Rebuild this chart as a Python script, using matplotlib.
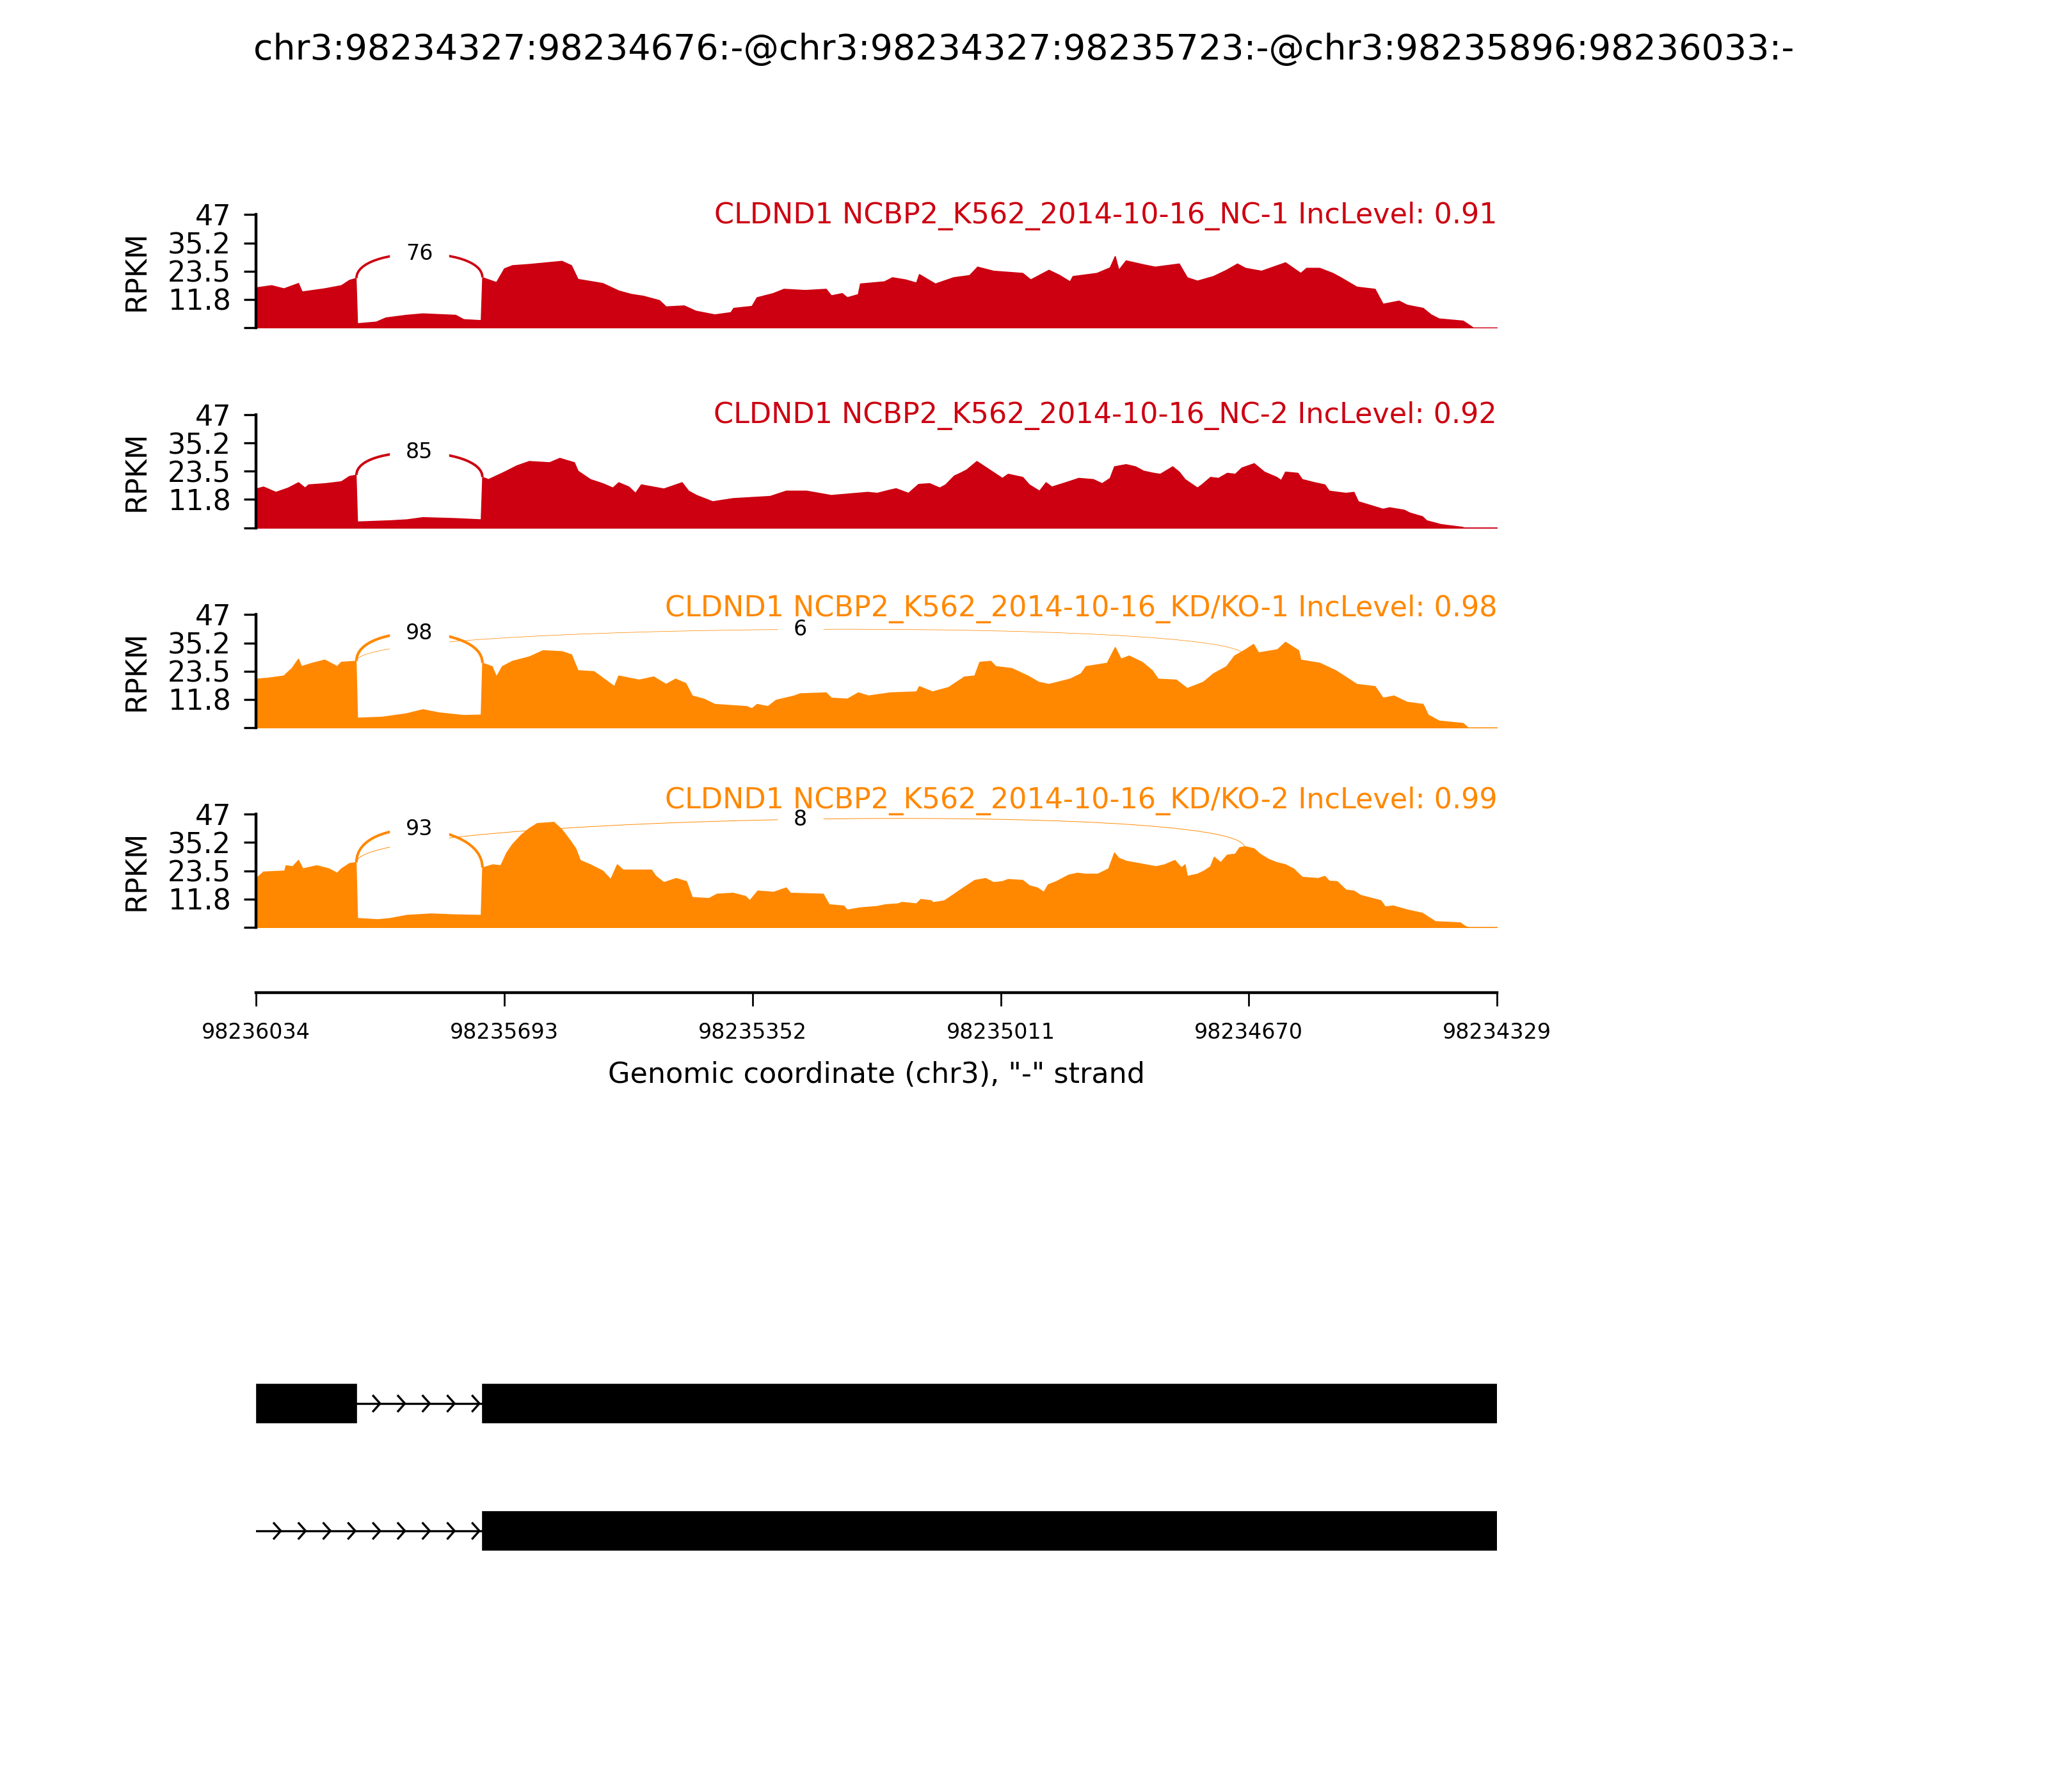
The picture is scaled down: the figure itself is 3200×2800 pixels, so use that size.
import numpy as np
import matplotlib
matplotlib.use('Agg')
import matplotlib.pyplot as plt
from matplotlib.path import Path
from matplotlib.patches import PathPatch, Rectangle

# region shown (minus strand, so it runs from high to low coordinate)
region_start = 98236034
region_end = 98234329
event_title = 'chr3:98234327:98234676:-@chr3:98234327:98235723:-@chr3:98235896:98236033:-'
xlab = 'Genomic coordinate (chr3), "-" strand'

sample_labels = ['CLDND1 NCBP2_K562_2014-10-16_NC-1 IncLevel: 0.91',
                 'CLDND1 NCBP2_K562_2014-10-16_NC-2 IncLevel: 0.92',
                 'CLDND1 NCBP2_K562_2014-10-16_KD/KO-1 IncLevel: 0.98',
                 'CLDND1 NCBP2_K562_2014-10-16_KD/KO-2 IncLevel: 0.99']
sample_colors = ['#CC0011', '#CC0011', '#FF8800', '#FF8800']

# coverage, distance from region_start (bp) -> RPKM
nc1_dist = [0, 21, 38, 58, 63, 94, 117, 128, 137, 139, 165, 178, 206, 229, 274, 285, 309, 311, 330, 341,
            352, 375, 420, 433, 442, 476, 498, 515, 532, 554, 563, 588, 604, 630, 652, 656, 681, 688, 710, 725,
            754, 783, 790, 805, 812, 827, 830, 863, 874, 892, 907, 911, 933, 958, 980, 991, 1013, 1053, 1064, 1089,
            1104, 1118, 1122, 1155, 1173, 1180, 1185, 1195, 1220, 1235, 1268, 1279, 1293, 1315, 1333, 1348, 1359, 1381, 1414, 1435,
            1443, 1461, 1479, 1490, 1512, 1537, 1548, 1570, 1581, 1603, 1614, 1625, 1658, 1669, 1672, 1705]
nc1_rpkm = [16.7, 17.6, 16.3, 18.5, 15.0, 16.3, 17.6, 19.8, 20.6, 1.8, 2.5, 4.2, 5.3, 5.9, 5.3, 3.5, 3.1, 20.9, 18.9, 24.6,
            25.9, 26.4, 27.7, 25.9, 20.2, 18.5, 15.4, 14.0, 13.2, 11.4, 8.8, 9.2, 7.0, 5.5, 6.4, 8.2, 9.0, 12.6, 14.3, 16.1,
            15.6, 16.1, 13.4, 14.3, 12.6, 13.9, 18.3, 19.2, 20.9, 20.0, 18.7, 22.2, 18.3, 20.9, 21.8, 25.3, 23.6, 22.7, 20.0, 24.0,
            21.8, 19.2, 21.4, 22.7, 25.0, 29.7, 24.0, 27.9, 26.2, 25.3, 26.6, 20.9, 19.5, 21.4, 24.0, 26.6, 24.8, 23.6, 27.1, 22.7,
            24.8, 24.8, 22.7, 20.9, 17.0, 16.1, 9.9, 11.2, 9.5, 8.2, 5.5, 3.8, 2.9, 0.7, 0.0, 0.0]

nc2_dist = [0, 10, 27, 44, 58, 67, 72, 95, 117, 128, 137, 139, 184, 207, 229, 274, 309, 311, 319, 341,
            358, 375, 403, 417, 437, 442, 459, 476, 490, 498, 512, 521, 529, 560, 585, 594, 605, 627, 655, 706,
            728, 756, 790, 840, 853, 870, 879, 896, 902, 910, 925, 939, 947, 959, 967, 976, 990, 999, 1010, 1025,
            1033, 1053, 1062, 1076, 1085, 1093, 1116, 1130, 1150, 1162, 1173, 1179, 1195, 1208, 1219, 1233, 1242, 1259, 1268, 1276,
            1293, 1299, 1311, 1322, 1334, 1345, 1354, 1371, 1385, 1402, 1408, 1414, 1431, 1437, 1454, 1468, 1474, 1497, 1508, 1514,
            1548, 1557, 1577, 1585, 1602, 1608, 1628, 1657, 1660, 1705]
nc2_rpkm = [16.3, 17.1, 14.9, 16.7, 18.9, 16.7, 18.0, 18.5, 19.3, 21.5, 22.0, 2.6, 3.1, 3.5, 4.4, 4.0, 3.5, 21.1, 20.2, 23.3,
            25.9, 27.7, 27.2, 29.0, 27.2, 23.7, 20.2, 18.5, 16.7, 18.9, 17.1, 14.5, 18.0, 16.3, 18.9, 15.4, 13.6, 11.0, 12.3, 13.2,
            15.4, 15.4, 13.6, 14.9, 14.5, 15.8, 16.4, 14.5, 16.1, 18.2, 18.5, 16.7, 18.0, 21.7, 22.8, 24.2, 27.7, 25.9, 23.7, 20.7,
            22.4, 21.1, 18.0, 15.4, 18.9, 17.1, 19.3, 20.7, 20.2, 18.5, 20.7, 25.5, 26.4, 25.5, 23.7, 22.8, 22.4, 25.5, 23.3, 20.2,
            16.7, 18.0, 21.1, 20.7, 22.8, 22.4, 25.0, 26.8, 23.3, 21.1, 19.8, 23.3, 22.8, 20.2, 18.9, 18.0, 15.4, 14.5, 14.9, 11.0,
            7.9, 8.5, 7.5, 6.3, 4.8, 3.1, 1.5, 0.4, 0.0, 0.0]

kd1_dist = [0, 16, 38, 41, 49, 58, 62, 77, 94, 100, 111, 117, 137, 139, 173, 206, 229, 251, 285, 309,
            311, 324, 330, 338, 352, 375, 394, 420, 433, 442, 464, 478, 492, 498, 526, 546, 563, 576, 590, 599,
            615, 630, 674, 681, 688, 703, 714, 739, 747, 783, 790, 812, 827, 841, 871, 907, 911, 929, 951, 962,
            973, 987, 994, 1009, 1016, 1038, 1060, 1075, 1089, 1118, 1133, 1140, 1169, 1180, 1188, 1199, 1217, 1231, 1239, 1264,
            1279, 1301, 1315, 1333, 1344, 1359, 1370, 1377, 1403, 1414, 1432, 1435, 1461, 1483, 1501, 1512, 1537, 1548, 1563, 1581,
            1603, 1610, 1625, 1658, 1665, 1705]
kd1_rpkm = [20.3, 20.7, 21.6, 22.5, 24.7, 28.6, 25.5, 26.9, 28.2, 27.3, 25.5, 27.3, 27.7, 4.1, 4.5, 5.9, 7.6, 6.3, 5.2, 5.4,
            26.9, 25.5, 21.2, 25.5, 27.7, 29.5, 32.1, 31.7, 30.4, 23.8, 23.4, 20.3, 17.2, 21.6, 19.9, 21.2, 18.1, 20.3, 18.5, 13.3,
            12.0, 9.8, 8.9, 8.0, 9.8, 8.9, 11.5, 13.3, 14.2, 14.6, 12.4, 12.0, 14.6, 13.3, 14.6, 15.0, 17.2, 15.0, 16.8, 19.0,
            21.2, 21.6, 27.3, 27.7, 25.5, 24.7, 21.6, 19.0, 18.1, 20.3, 22.5, 25.5, 26.9, 33.4, 28.6, 29.9, 27.3, 23.8, 20.3, 19.9,
            16.4, 19.0, 22.5, 25.5, 29.9, 32.5, 34.7, 31.2, 32.5, 35.6, 32.1, 28.2, 26.9, 23.8, 20.3, 18.1, 17.2, 12.4, 13.3, 10.7,
            9.8, 5.4, 2.9, 1.9, 0.0, 0.0]

kd2_dist = [0, 10, 39, 41, 50, 58, 64, 83, 100, 111, 117, 128, 137, 139, 167, 184, 207, 240, 274, 309,
            311, 325, 336, 344, 352, 364, 375, 386, 409, 420, 431, 439, 445, 459, 476, 487, 496, 504, 543, 549,
            560, 577, 591, 599, 622, 633, 655, 672, 678, 689, 711, 728, 734, 779, 787, 807, 812, 829, 853, 864,
            882, 887, 907, 913, 927, 930, 945, 959, 967, 976, 987, 1002, 1013, 1025, 1033, 1053, 1062, 1073, 1082, 1088,
            1099, 1116, 1128, 1139, 1156, 1171, 1179, 1185, 1196, 1213, 1236, 1248, 1262, 1271, 1276, 1279, 1293, 1302, 1311, 1316,
            1325, 1334, 1345, 1351, 1359, 1371, 1379, 1391, 1402, 1414, 1425, 1437, 1459, 1468, 1474, 1485, 1497, 1508, 1517, 1545,
            1551, 1562, 1582, 1602, 1611, 1620, 1654, 1660, 1665, 1705]
kd2_rpkm = [20.4, 23.1, 23.5, 25.7, 25.3, 27.9, 24.4, 25.7, 24.4, 22.6, 24.4, 26.6, 27.0, 3.8, 3.3, 3.8, 5.1, 5.7, 5.3, 5.1,
            24.8, 26.1, 25.7, 31.0, 34.5, 38.4, 41.1, 43.2, 43.7, 40.6, 36.2, 32.7, 27.9, 26.1, 23.5, 20.0, 26.1, 23.9, 23.9, 21.3,
            18.7, 20.4, 19.1, 12.5, 12.1, 13.9, 14.3, 13.0, 11.2, 15.2, 14.7, 16.5, 14.3, 13.9, 9.5, 9.0, 7.3, 8.2, 8.8, 9.5,
            9.9, 10.5, 9.9, 11.7, 11.2, 10.4, 11.1, 13.9, 15.6, 17.4, 19.6, 20.4, 18.7, 19.1, 20.0, 19.6, 17.4, 16.5, 14.7, 17.8,
            19.1, 21.8, 22.6, 22.2, 22.2, 24.4, 31.0, 28.8, 27.5, 26.6, 25.3, 26.1, 27.9, 24.8, 26.1, 21.3, 22.2, 23.5, 25.3, 29.2,
            27.0, 30.1, 30.5, 33.2, 33.6, 32.7, 30.5, 28.3, 27.0, 26.1, 24.4, 20.9, 20.4, 21.3, 19.3, 19.1, 15.6, 15.2, 13.4, 11.2,
            8.6, 9.0, 7.3, 6.0, 4.2, 2.5, 2.0, 0.7, 0.0, 0.0]

coverage = [(nc1_dist, nc1_rpkm), (nc2_dist, nc2_rpkm), (kd1_dist, kd1_rpkm), (kd2_dist, kd2_rpkm)]

# junctions: (left splice site, right splice site, read count)
junctions = [[(98235896, 98235723, 76)],
             [(98235896, 98235723, 85)],
             [(98235896, 98235723, 98), (98235896, 98234676, 6)],
             [(98235896, 98235723, 93), (98235896, 98234676, 8)]]

ytick_vals = [0, 11.8, 23.5, 35.2, 47]
ytick_labels = ['', '11.8', '23.5', '35.2', '47']
xtick_vals = [98236034, 98235693, 98235352, 98235011, 98234670, 98234329]

# transcripts drawn under the axis
tx_exons = [[(98235896, 98236033), (98234327, 98235723)],
            [(98234327, 98235723)]]
tx_introns = [[(98235723, 98235896)],
              [(98235723, 98236034)]]


def cov_at(dist, vals, d):
    k = np.searchsorted(dist, d, side='right') - 1
    return vals[max(k, 0)]


fig = plt.figure(figsize=(8, 7), dpi=400)
fig.text(0.5, 0.972, event_title, ha='center', va='center', fontsize=10)

panel_bottoms = [0.8171, 0.7054, 0.5939, 0.4825]
title_y = [43.3, 43.5, 46.2, 49.3]

for i in range(4):
    dist, vals = coverage[i]
    color = sample_colors[i]
    ax = fig.add_axes([0.125, panel_bottoms[i], 0.606, 0.0632])
    x = region_start - np.array(dist)
    ax.fill_between(x, vals, 0, color=color, lw=0.3)
    ax.set_xlim(region_start, region_end)
    ax.set_ylim(0, 47)
    for s in ['top', 'right', 'bottom']:
        ax.spines[s].set_visible(False)
    ax.spines['left'].set_linewidth(0.8)
    ax.set_xticks([])
    ax.set_yticks(ytick_vals)
    ax.set_yticklabels(ytick_labels, fontsize=8)
    ax.tick_params(axis='y', direction='out', length=3.5, width=0.6)
    ax.set_ylabel('RPKM', fontsize=8, labelpad=5)

    # junction arcs
    h = 0.45 * max(vals)
    for a, b, n in junctions[i]:
        l = cov_at(dist, vals, region_start - a - 1)
        r = cov_at(dist, vals, region_start - b)
        pts = [(a, l), (a, l + h), (b, r + h), (b, r)]
        path = Path(pts, [Path.MOVETO, Path.CURVE4, Path.CURVE4, Path.CURVE4])
        lw = 0.75 * (np.log(n + 1) / np.log(100)) ** 2
        ax.add_patch(PathPatch(path, ec=color, fc='none', lw=lw, clip_on=False, zorder=3))
        ax.text((a + b) / 2.0, (l + r) / 2.0 + 0.75 * h, str(n), fontsize=6,
                ha='center', va='center', backgroundcolor='w', zorder=5)

    ax.text(region_end, title_y[i], sample_labels[i], ha='right', va='baseline',
            fontsize=8, color=color, zorder=10)

# genomic coordinate axis
axx = fig.add_axes([0.125, 0.4461, 0.606, 0.001])
axx.set_xlim(region_start, region_end)
for s in ['top', 'right', 'left']:
    axx.spines[s].set_visible(False)
axx.spines['bottom'].set_linewidth(0.8)
axx.set_yticks([])
axx.set_xticks(xtick_vals)
axx.set_xticklabels([str(v) for v in xtick_vals], fontsize=6)
axx.tick_params(axis='x', length=3.8, width=0.5, pad=4.5)
axx.set_xlabel(xlab, fontsize=8, labelpad=5)

# transcript structure
axg = fig.add_axes([0.125, 0.10, 0.606, 0.16])
axg.set_xlim(region_start, region_end)
axg.set_ylim(-0.643, 1.608)
axg.axis('off')
exon_h = 0.30
narrows = 50
span = region_start - region_end
spread = 9.4
for t in range(2):
    yc = 1 - t
    for e0, e1 in tx_exons[t]:
        axg.add_patch(Rectangle((e0, yc - exon_h / 2), e1 - e0, exon_h, fc='k', ec='k', lw=0.3))
    for i0, i1 in tx_introns[t]:
        axg.plot([i0, i1], [yc, yc], color='k', lw=0.6)
        for k in range(narrows):
            loc = region_start - k * span / float(narrows)
            if i0 < loc < i1:
                axg.plot([loc + spread, loc, loc + spread],
                         [yc - exon_h / 5, yc, yc + exon_h / 5], color='k', lw=0.6)

fig.savefig('out.png', dpi=400)
